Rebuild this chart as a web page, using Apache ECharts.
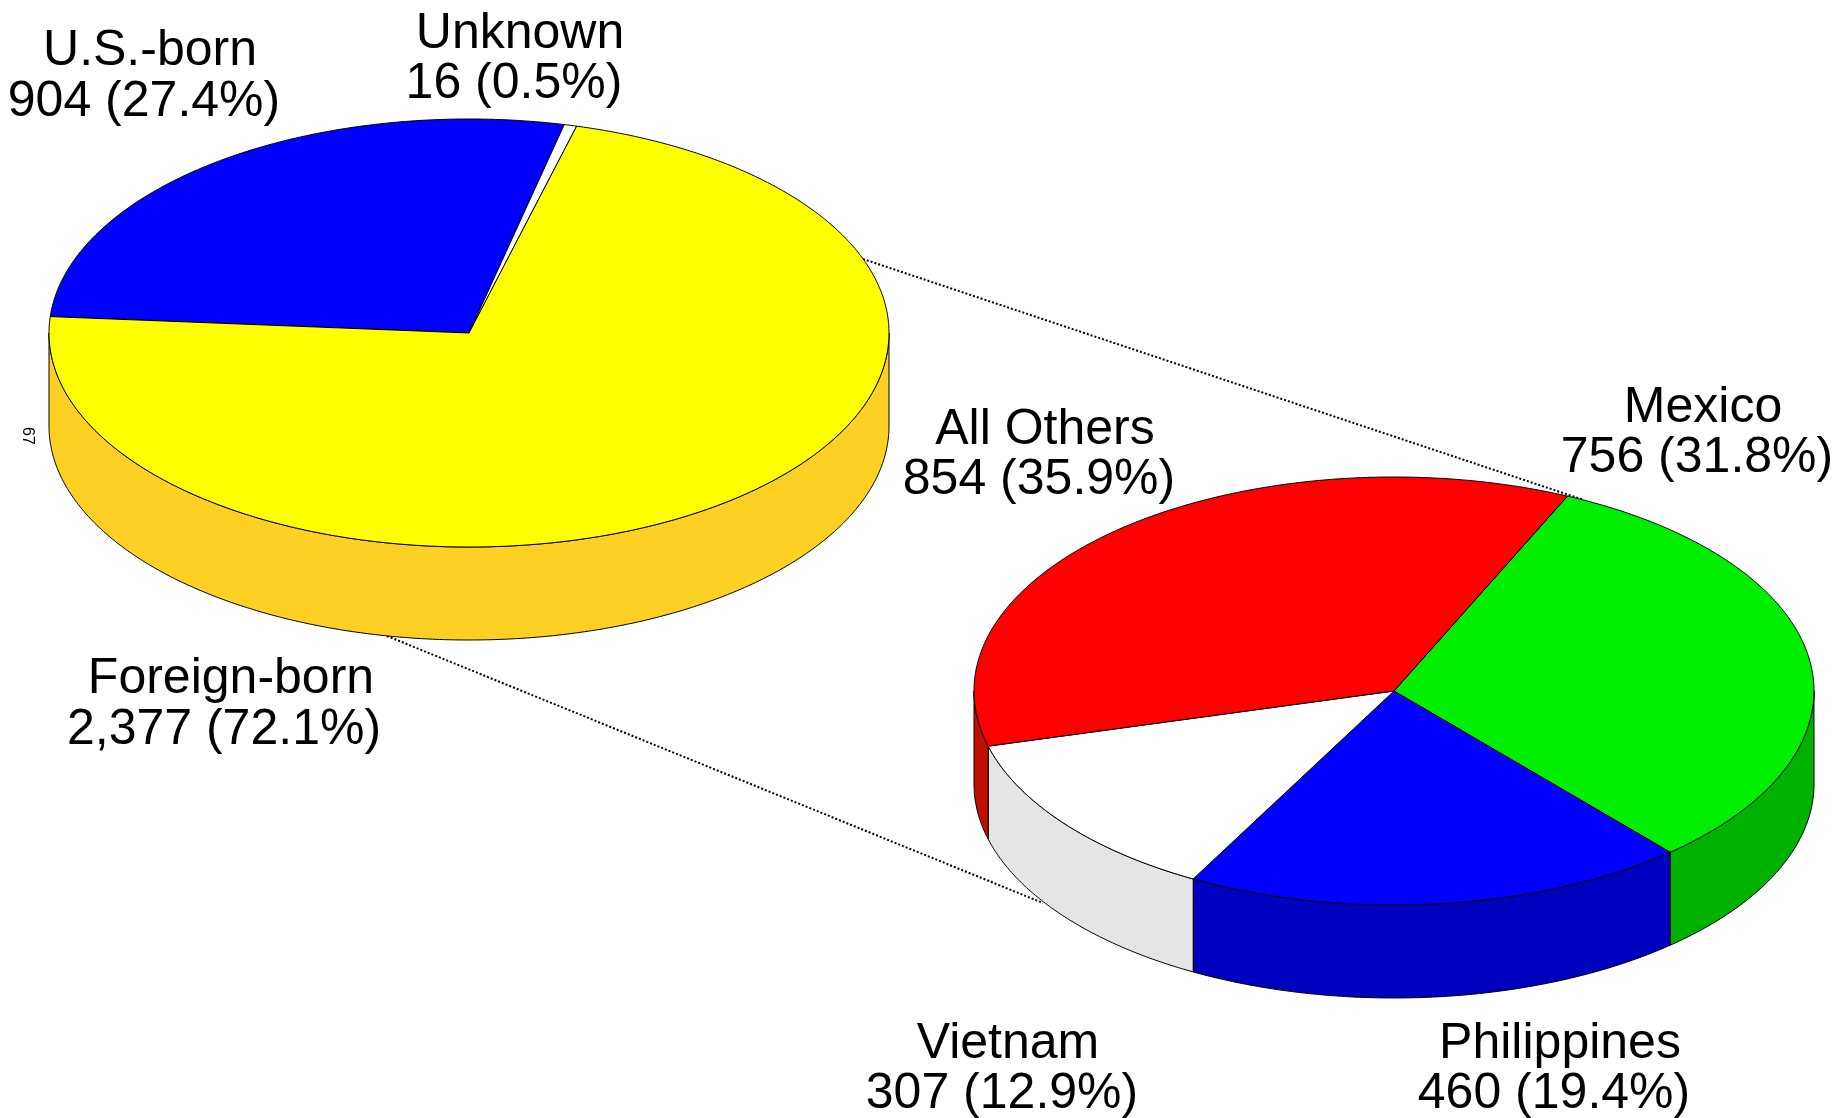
<!DOCTYPE html>
<html>
<head>
<meta charset="utf-8">
<title>Foreign-born breakdown</title>
<style>
  html, body { margin: 0; padding: 0; background: #fff; }
  #chart { width: 1837px; height: 1118px; }
</style>
<script src="https://cdn.jsdelivr.net/npm/echarts@6/dist/echarts.min.js"></script>
</head>
<body>
<div id="chart"></div>
<script>
const nativityNames = ["U.S.-born", "Unknown", "Foreign-born"];
const nativityValues = [904, 16, 2377];
const nativityPercents = ["27.4", "0.5", "72.1"];

const originNames = ["Mexico", "Philippines", "Vietnam", "All Others"];
const originValues = [756, 460, 307, 854];
const originPercents = ["31.8", "19.4", "12.9", "35.9"];

// top and side colours, per slice
const nativityTop = ["#0000ff", "#ffffff", "#ffff00"];
const nativitySide = ["#0000bf", "#e5e5e5", "#fdd023"];
const originTop = ["#00ee00", "#0000ff", "#ffffff", "#ff0000"];
const originSide = ["#00b200", "#0000bf", "#e5e5e5", "#bf1000"];

const FONT = '50px "Liberation Sans", Arial, sans-serif';
const DEPTH = 93;

const leftPie = { cx: 469, cy: 333, rx: 420, ry: 214, start: -85.6,
  names: nativityNames, values: nativityValues, percents: nativityPercents,
  top: nativityTop, side: nativitySide,
  // name centre x/y, value centre x/y
  labels: [[150, 51, 144, 102], [520, 34, 514, 84], [231, 679, 224, 730]] };

const rightPie = { cx: 1394, cy: 691, rx: 420, ry: 214, start: 24.4,
  names: originNames, values: originValues, percents: originPercents,
  top: originTop, side: originSide,
  labels: [[1703, 408, 1697, 458], [1560, 1044, 1554, 1094], [1008, 1044, 1002, 1094], [1045, 430, 1039, 480]] };

function arcPoints(pie, from, to, dy) {
  const pts = [];
  const steps = Math.max(2, Math.ceil((to - from) / 0.5));
  for (let i = 0; i <= steps; i++) {
    const a = (from + (to - from) * i / steps) * Math.PI / 180;
    pts.push([pie.cx + pie.rx * Math.sin(a), pie.cy - pie.ry * Math.cos(a) + dy]);
  }
  return pts;
}

function renderSlice(pie) {
  const total = pie.values.reduce((a, b) => a + b, 0);
  return (params, api) => {
    const i = params.dataIndex;
    let before = 0;
    for (let k = 0; k < i; k++) before += pie.values[k];
    const from = pie.start + before / total * 360;
    const to = from + api.value(0) / total * 360;
    const children = [];
    const line = { stroke: "#000", lineWidth: 1 };

    // only the front half of the rim shows
    const sFrom = Math.max(from, 90);
    const sTo = Math.min(to, 270);
    if (sTo > sFrom) {
      const rim = arcPoints(pie, sFrom, sTo, 0).concat(arcPoints(pie, sFrom, sTo, DEPTH).reverse());
      children.push({ type: "polygon", shape: { points: rim }, style: { fill: pie.side[i], ...line } });
    }

    const wedge = [[pie.cx, pie.cy]].concat(arcPoints(pie, from, to, 0));
    children.push({ type: "polygon", shape: { points: wedge }, style: { fill: pie.top[i], ...line } });

    const lab = pie.labels[i];
    const valueText = api.value(0).toLocaleString("en-US") + " (" + pie.percents[i] + "%)";
    children.push({ type: "text", style: { text: pie.names[i], x: lab[0], y: lab[1], font: FONT, fill: "#000", align: "center", verticalAlign: "middle" } });
    children.push({ type: "text", style: { text: valueText, x: lab[2], y: lab[3], font: FONT, fill: "#000", align: "center", verticalAlign: "middle" } });
    return { type: "group", children };
  };
}

function pieSeries(pie) {
  return {
    type: "custom",
    coordinateSystem: "none",
    silent: true,
    data: pie.values.map((v) => [v]),
    renderItem: renderSlice(pie),
  };
}

const option = {
  animation: false,
  backgroundColor: "#fff",
  graphic: [
    { type: "line", z: 0, shape: { x1: 863, y1: 259, x2: 1584, y2: 500 }, style: { stroke: "#000", lineWidth: 2, lineDash: [2, 2] } },
    { type: "line", z: 0, shape: { x1: 387, y1: 636, x2: 1043, y2: 903 }, style: { stroke: "#000", lineWidth: 2, lineDash: [2, 2] } },
    { type: "text", z: 3, x: 27, y: 436, rotation: -Math.PI / 2, style: { text: "67", font: '16px "Liberation Sans", Arial, sans-serif', fill: "#000", align: "center", verticalAlign: "middle" } },
  ],
  series: [pieSeries(leftPie), pieSeries(rightPie)],
};

const chart = echarts.init(document.getElementById("chart"));
chart.setOption(option);
window.addEventListener("resize", () => chart.resize());
</script>
</body>
</html>
